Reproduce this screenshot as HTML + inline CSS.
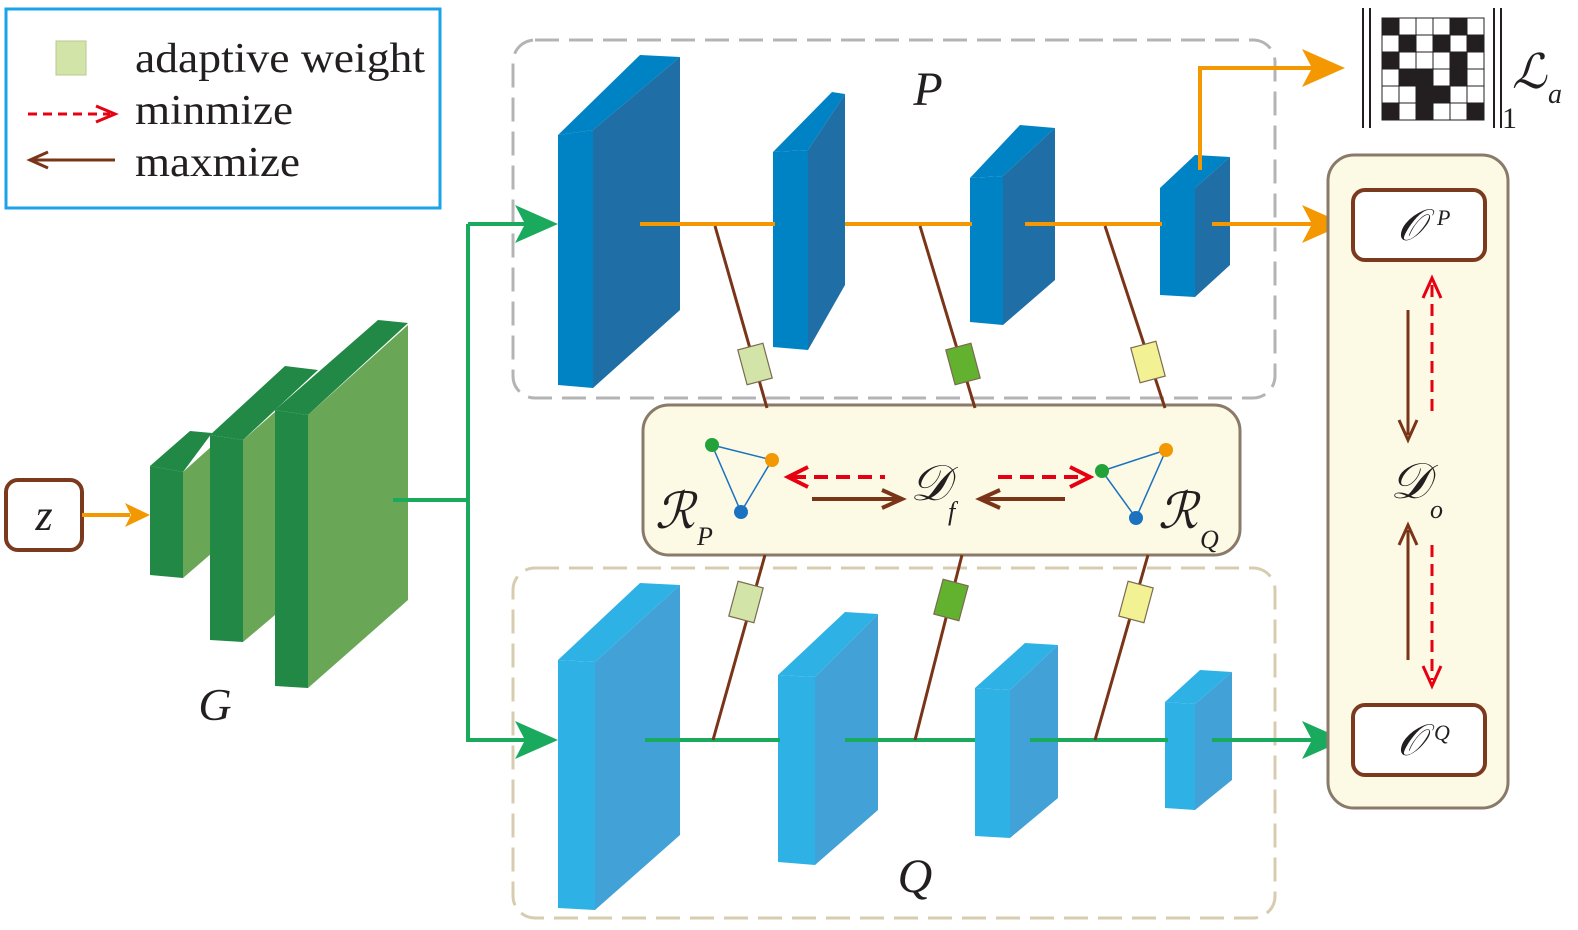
<!DOCTYPE html>
<html><head><meta charset="utf-8"><style>
html,body{margin:0;padding:0;background:#fff;width:1578px;height:930px;overflow:hidden}
svg text{font-family:"Liberation Serif",serif}
</style></head><body>
<svg width="1578" height="930" viewBox="0 0 1578 930" xmlns="http://www.w3.org/2000/svg">
<!-- legend -->
<rect x="6" y="9" width="434" height="199" fill="#fff" stroke="#1aa3e8" stroke-width="3"/>
<rect x="56" y="41" width="30" height="34" fill="#d3e4a8" stroke="#b8c890" stroke-width="1"/>
<text x="135" y="72" font-size="42" fill="#231f20" textLength="290" lengthAdjust="spacingAndGlyphs">adaptive weight</text>
<line x1="28" y1="114" x2="110" y2="114" stroke="#e60012" stroke-width="3" stroke-dasharray="9,6"/>
<polyline points="96,106 115,114 96,122" fill="none" stroke="#e60012" stroke-width="3"/>
<text x="135" y="124" font-size="42" fill="#231f20" textLength="158" lengthAdjust="spacingAndGlyphs">minmize</text>
<line x1="32" y1="160" x2="115" y2="160" stroke="#7a3519" stroke-width="3"/>
<polyline points="48,152 30,160 48,168" fill="none" stroke="#7a3519" stroke-width="3"/>
<text x="135" y="176" font-size="42" fill="#231f20" textLength="165" lengthAdjust="spacingAndGlyphs">maxmize</text>

<!-- dashed boxes -->
<rect x="513" y="40" width="762" height="358" rx="22" fill="none" stroke="#b4b4b4" stroke-width="3" stroke-dasharray="24,10"/>
<rect x="513" y="568" width="762" height="350" rx="22" fill="none" stroke="#d8ccb0" stroke-width="3" stroke-dasharray="24,10"/>

<!-- z -->
<rect x="6" y="480" width="76" height="70" rx="12" fill="#fff" stroke="#7b3a1e" stroke-width="4"/>
<text x="44" y="530" font-size="44" font-style="italic" text-anchor="middle" fill="#231f20">z</text>
<line x1="82" y1="515" x2="130" y2="515" stroke="#f39800" stroke-width="4"/>
<polygon points="125,503 150,515 125,527 131,515" fill="#f39800"/>

<!-- G blocks -->
<g>
<polygon points="150,466 190,431 212,433 183,472" fill="#218845"/>
<polygon points="150,466 183,472 183,578 150,575" fill="#218845"/>
<polygon points="183,472 212,446 212,553 183,578" fill="#69a655"/>
<polygon points="210,435 285,366 318,370 243,440" fill="#218845"/>
<polygon points="210,435 243,440 243,642 210,640" fill="#218845"/>
<polygon points="243,440 275,412 275,615 243,642" fill="#69a655"/>
<polygon points="275,410 378,320 408,323 308,415" fill="#218845"/>
<polygon points="275,410 308,415 308,688 275,686" fill="#218845"/>
<polygon points="308,415 408,325 408,600 308,688" fill="#69a655"/>
</g>
<text x="215" y="720" font-size="46" font-style="italic" text-anchor="middle" fill="#231f20">G</text>

<!-- green connectors -->
<polyline points="393,500 468,500" fill="none" stroke="#1aaa5e" stroke-width="4"/>
<line x1="468" y1="224" x2="468" y2="742" stroke="#1aaa5e" stroke-width="4"/>
<line x1="468" y1="224" x2="535" y2="224" stroke="#1aaa5e" stroke-width="4"/>
<polygon points="515,205 558,224 515,243 525,224" fill="#1aaa5e"/>
<line x1="468" y1="740" x2="535" y2="740" stroke="#1aaa5e" stroke-width="4"/>
<polygon points="515,721 558,740 515,759 525,740" fill="#1aaa5e"/>

<!-- P blocks -->
<g>
<polygon points="558,135 640,55 680,57 593,130" fill="#0083c4"/>
<polygon points="558,135 593,130 593,388 558,385" fill="#0083c4"/>
<polygon points="593,130 680,57 680,310 593,388" fill="#1f6ea5"/>
<polygon points="773,152 832,92 845,94 808,150" fill="#0083c4"/>
<polygon points="773,152 808,150 808,350 773,347" fill="#0083c4"/>
<polygon points="808,150 845,94 845,285 808,350" fill="#1f6ea5"/>
<polygon points="970,178 1020,125 1055,128 1003,176" fill="#0083c4"/>
<polygon points="970,178 1003,176 1003,325 970,322" fill="#0083c4"/>
<polygon points="1003,176 1055,128 1055,280 1003,325" fill="#1f6ea5"/>
<polygon points="1160,188 1195,155 1230,157 1195,188" fill="#0083c4"/>
<polygon points="1160,188 1195,188 1195,297 1160,295" fill="#0083c4"/>
<polygon points="1195,188 1230,157 1230,265 1195,297" fill="#1f6ea5"/>
</g>
<text x="928" y="105" font-size="48" font-style="italic" text-anchor="middle" fill="#231f20">P</text>

<!-- Q blocks -->
<g>
<polygon points="558,660 640,583 680,585 595,662" fill="#2eb2e6"/>
<polygon points="558,660 595,662 595,910 558,908" fill="#2eb2e6"/>
<polygon points="595,662 680,585 680,835 595,910" fill="#42a2d8"/>
<polygon points="778,675 845,612 878,614 815,677" fill="#2eb2e6"/>
<polygon points="778,675 815,677 815,865 778,862" fill="#2eb2e6"/>
<polygon points="815,677 878,614 878,810 815,865" fill="#42a2d8"/>
<polygon points="975,688 1025,643 1058,645 1010,690" fill="#2eb2e6"/>
<polygon points="975,688 1010,690 1010,838 975,836" fill="#2eb2e6"/>
<polygon points="1010,690 1058,645 1058,798 1010,838" fill="#42a2d8"/>
<polygon points="1165,702 1200,670 1232,672 1195,704" fill="#2eb2e6"/>
<polygon points="1165,702 1195,704 1195,810 1165,808" fill="#2eb2e6"/>
<polygon points="1195,704 1232,672 1232,780 1195,810" fill="#42a2d8"/>
</g>
<text x="915" y="892" font-size="48" font-style="italic" text-anchor="middle" fill="#231f20">Q</text>

<!-- orange lines -->
<g stroke="#f39800" stroke-width="4">
<line x1="640" y1="224" x2="775" y2="224"/>
<line x1="845" y1="224" x2="972" y2="224"/>
<line x1="1025" y1="224" x2="1162" y2="224"/>
<line x1="1212" y1="224" x2="1320" y2="224"/>
<polyline points="1200,170 1200,68 1320,68" fill="none"/>
</g>
<polygon points="1302,205 1345,224 1302,243 1312,224" fill="#f39800"/>
<polygon points="1302,49 1345,68 1302,87 1312,68" fill="#f39800"/>

<!-- green Q line -->
<g stroke="#1aaa5e" stroke-width="4">
<line x1="645" y1="740" x2="780" y2="740"/>
<line x1="845" y1="740" x2="975" y2="740"/>
<line x1="1030" y1="740" x2="1168" y2="740"/>
<line x1="1212" y1="740" x2="1320" y2="740"/>
</g>
<polygon points="1302,721 1345,740 1302,759 1312,740" fill="#1aaa5e"/>

<!-- middle panel -->
<rect x="643" y="405" width="597" height="150" rx="26" fill="#fcf9e5" stroke="#8a7a6a" stroke-width="3"/>
<!-- right panel -->
<rect x="1328" y="155" width="180" height="653" rx="26" fill="#fcf9e5" stroke="#8a7a6a" stroke-width="3"/>

<!-- brown diagonals & weight boxes -->
<g stroke="#7a3519" stroke-width="3">
<line x1="715" y1="226" x2="767" y2="408"/>
<line x1="920" y1="226" x2="975" y2="408"/>
<line x1="1105" y1="226" x2="1165" y2="408"/>
<line x1="765" y1="555" x2="713" y2="740"/>
<line x1="962" y1="555" x2="915" y2="740"/>
<line x1="1148" y1="555" x2="1095" y2="740"/>
</g>
<g stroke="#7b6a50" stroke-width="1.2">
<rect x="-13" y="-18" width="26" height="36" fill="#d3e4a8" transform="translate(755,364) rotate(-15)"/>
<rect x="-13" y="-18" width="26" height="36" fill="#63b22f" transform="translate(963,364) rotate(-15)"/>
<rect x="-13" y="-18" width="26" height="36" fill="#f2f194" transform="translate(1148,362) rotate(-15)"/>
<rect x="-13" y="-18" width="26" height="36" fill="#d3e4a8" transform="translate(746,602) rotate(15)"/>
<rect x="-13" y="-18" width="26" height="36" fill="#63b22f" transform="translate(951,600) rotate(15)"/>
<rect x="-13" y="-18" width="26" height="36" fill="#f2f194" transform="translate(1136,602) rotate(15)"/>
</g>

<!-- graphs -->
<g stroke="#1a72c0" stroke-width="1.5" fill="none">
<polygon points="712,445 772,460 741,512"/>
<polygon points="1102,471 1166,450 1136,518"/>
</g>
<circle cx="712" cy="445" r="7" fill="#23a23a"/>
<circle cx="772" cy="460" r="7" fill="#f39800"/>
<circle cx="741" cy="512" r="7" fill="#1a72c0"/>
<circle cx="1102" cy="471" r="7" fill="#23a23a"/>
<circle cx="1166" cy="450" r="7" fill="#f39800"/>
<circle cx="1136" cy="518" r="7" fill="#1a72c0"/>

<!-- middle arrows -->
<line x1="792" y1="477" x2="885" y2="477" stroke="#e60012" stroke-width="4" stroke-dasharray="14,8"/>
<polyline points="808,467 788,477 808,487" fill="none" stroke="#e60012" stroke-width="4"/>
<line x1="812" y1="499" x2="900" y2="499" stroke="#7a3519" stroke-width="4"/>
<polyline points="882,490 902,499 882,508" fill="none" stroke="#7a3519" stroke-width="4"/>
<line x1="998" y1="477" x2="1085" y2="477" stroke="#e60012" stroke-width="4" stroke-dasharray="14,8"/>
<polyline points="1070,467 1090,477 1070,487" fill="none" stroke="#e60012" stroke-width="4"/>
<line x1="982" y1="499" x2="1065" y2="499" stroke="#7a3519" stroke-width="4"/>
<polyline points="1000,490 980,499 1000,508" fill="none" stroke="#7a3519" stroke-width="4"/>

<text x="655" y="528" font-size="50" font-style="italic" fill="#231f20">ℛ</text>
<text x="697" y="545" font-size="26" font-style="italic" fill="#231f20">P</text>
<text x="910" y="500" font-size="50" font-style="italic" fill="#231f20">𝒟</text>
<text x="948" y="520" font-size="26" font-style="italic" fill="#231f20">f</text>
<text x="1158" y="528" font-size="50" font-style="italic" fill="#231f20">ℛ</text>
<text x="1200" y="548" font-size="26" font-style="italic" fill="#231f20">Q</text>

<!-- right panel content -->
<rect x="1353" y="190" width="132" height="70" rx="12" fill="#fff" stroke="#7b3a1e" stroke-width="4"/>
<text x="1397" y="240" font-size="44" font-style="italic" fill="#231f20">𝒪</text>
<text x="1437" y="225" font-size="22" font-style="italic" fill="#231f20">P</text>
<rect x="1353" y="705" width="132" height="70" rx="12" fill="#fff" stroke="#7b3a1e" stroke-width="4"/>
<text x="1397" y="755" font-size="44" font-style="italic" fill="#231f20">𝒪</text>
<text x="1434" y="740" font-size="22" font-style="italic" fill="#231f20">Q</text>
<text x="1390" y="498" font-size="50" font-style="italic" fill="#231f20">𝒟</text>
<text x="1430" y="518" font-size="26" font-style="italic" fill="#231f20">o</text>

<line x1="1408" y1="310" x2="1408" y2="435" stroke="#7a3519" stroke-width="3"/>
<polyline points="1399,420 1408,440 1417,420" fill="none" stroke="#7a3519" stroke-width="3"/>
<line x1="1432" y1="285" x2="1432" y2="418" stroke="#e60012" stroke-width="3" stroke-dasharray="12,7"/>
<polyline points="1423,298 1432,278 1441,298" fill="none" stroke="#e60012" stroke-width="3"/>
<line x1="1408" y1="530" x2="1408" y2="660" stroke="#7a3519" stroke-width="3"/>
<polyline points="1399,545 1408,525 1417,545" fill="none" stroke="#7a3519" stroke-width="3"/>
<line x1="1432" y1="545" x2="1432" y2="680" stroke="#e60012" stroke-width="3" stroke-dasharray="12,7"/>
<polyline points="1423,666 1432,686 1441,666" fill="none" stroke="#e60012" stroke-width="3"/>

<!-- norm matrix -->
<g stroke="#231f20" stroke-width="2">
<line x1="1363" y1="8" x2="1363" y2="128"/>
<line x1="1370" y1="8" x2="1370" y2="128"/>
<line x1="1494" y1="8" x2="1494" y2="128"/>
<line x1="1501" y1="8" x2="1501" y2="128"/>
</g>
<g>
<rect x="1382" y="18" width="102" height="102" fill="#fff" stroke="#231f20" stroke-width="1"/>
<g fill="#231f20">
<rect x="1382" y="18" width="17" height="17"/><rect x="1450" y="18" width="17" height="17"/>
<rect x="1399" y="35" width="17" height="17"/><rect x="1433" y="35" width="17" height="17"/><rect x="1467" y="35" width="17" height="17"/>
<rect x="1382" y="52" width="17" height="17"/><rect x="1450" y="52" width="17" height="17"/>
<rect x="1399" y="69" width="34" height="17"/><rect x="1450" y="69" width="17" height="17"/>
<rect x="1416" y="86" width="34" height="17"/>
<rect x="1382" y="103" width="17" height="17"/><rect x="1416" y="103" width="17" height="17"/><rect x="1467" y="103" width="17" height="17"/>
</g>
<g stroke="#231f20" stroke-width="1">
<line x1="1399" y1="18" x2="1399" y2="120"/><line x1="1416" y1="18" x2="1416" y2="120"/><line x1="1433" y1="18" x2="1433" y2="120"/><line x1="1450" y1="18" x2="1450" y2="120"/><line x1="1467" y1="18" x2="1467" y2="120"/>
<line x1="1382" y1="35" x2="1484" y2="35"/><line x1="1382" y1="52" x2="1484" y2="52"/><line x1="1382" y1="69" x2="1484" y2="69"/><line x1="1382" y1="86" x2="1484" y2="86"/><line x1="1382" y1="103" x2="1484" y2="103"/>
</g>
</g>
<text x="1502" y="128" font-size="30" fill="#231f20">1</text>
<text x="1512" y="88" font-size="48" font-style="italic" fill="#231f20">ℒ</text>
<text x="1548" y="103" font-size="28" font-style="italic" fill="#231f20">a</text>
</svg>
</body></html>
